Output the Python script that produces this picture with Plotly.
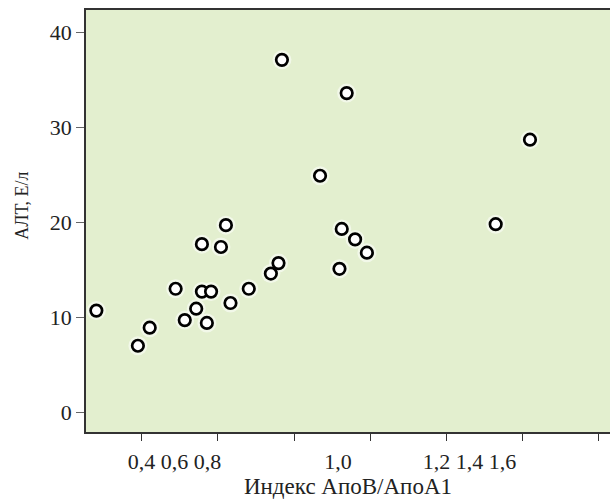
import plotly.graph_objects as go

# Data (index ApoB/ApoA1 vs ALT, U/l)
apob_apoa1 = [0.281, 0.390, 0.421, 0.489, 0.513, 0.543, 0.558, 0.582, 0.571, 0.558,
              0.608, 0.621, 0.633, 0.681, 0.739, 0.759, 0.868, 0.925, 0.960, 0.991,
              0.919, 0.768, 0.938, 1.419, 1.329]
alt = [10.7, 7.0, 8.9, 13.0, 9.7, 10.9, 12.7, 12.7, 9.4, 17.7,
       17.4, 19.7, 11.5, 13.0, 14.6, 15.7, 24.9, 19.3, 18.2, 16.8,
       15.1, 37.1, 33.6, 28.7, 19.8]

tick_positions = [0.4, 0.6, 0.8, 1.0, 1.2, 1.4, 1.6]
label_positions = [0.486, 0.915, 1.260]
label_texts = ["0,4 0,6 0,8", "1,0", "1,2 1,4 1,6"]
y_ticks = [0, 10, 20, 30, 40]
x_title = "Индекс АпоВ/АпоА1"
y_title = "АЛТ, Е/л"

font_family = "Liberation Serif, DejaVu Serif, serif"

fig = go.Figure()
# soft white halo
fig.add_trace(go.Scatter(
    x=apob_apoa1, y=alt, mode="markers",
    marker=dict(size=19, color="rgba(255,255,255,0.55)", line=dict(width=0)),
    hoverinfo="skip", showlegend=False))
fig.add_trace(go.Scatter(
    x=apob_apoa1, y=alt, mode="markers",
    marker=dict(size=11.5, color="white", line=dict(width=2.7, color="black")),
    showlegend=False))

fig.update_layout(
    width=610, height=503,
    margin=dict(l=86, r=0, t=10, b=71, autoexpand=False),
    paper_bgcolor="white",
    plot_bgcolor="#E3EFCF",
    font=dict(family=font_family, size=21, color="#222"),
    xaxis=dict(
        automargin=False,
        range=[0.2538, 1.629],
        tickmode="array", tickvals=label_positions, ticktext=label_texts,
        tickfont=dict(size=22),
        ticks="outside", ticklen=9, tickcolor="rgba(0,0,0,0)",
        showgrid=False, zeroline=False,
        showline=True, mirror=True, linecolor="#333", linewidth=1.5,
        minor=dict(tickmode="array", tickvals=tick_positions, ticks="outside",
                   ticklen=7, tickcolor="#333", tickwidth=1.2, showgrid=False),
        title=dict(text=x_title, font=dict(size=23), standoff=5),
    ),
    yaxis=dict(
        automargin=False,
        range=[-2.08, 42.35],
        tickmode="array", tickvals=y_ticks, ticktext=[str(v) for v in y_ticks],
        tickfont=dict(size=22),
        ticks="outside", ticklen=8, tickcolor="#666", tickwidth=1.2,
        showgrid=False, zeroline=False,
        showline=True, mirror=True, linecolor="#333", linewidth=1.5,
    ),
    annotations=[dict(
        text=y_title, textangle=-90, showarrow=False,
        xref="paper", yref="paper", x=0, y=0.536,
        xanchor="center", yanchor="middle", xshift=-64,
        font=dict(size=18, family=font_family, color="#222"),
    )],
)

post = (
    "document.documentElement.style.margin='0';"
    "document.documentElement.style.overflow='hidden';"
    "document.body.style.margin='0';"
    "document.body.style.overflow='hidden';"
    "Plotly.relayout('{plot_id}', {width: 610, height: 503});"
)

fig.write_html("out.html", post_script=post,
               config={"displayModeBar": False, "responsive": False})
